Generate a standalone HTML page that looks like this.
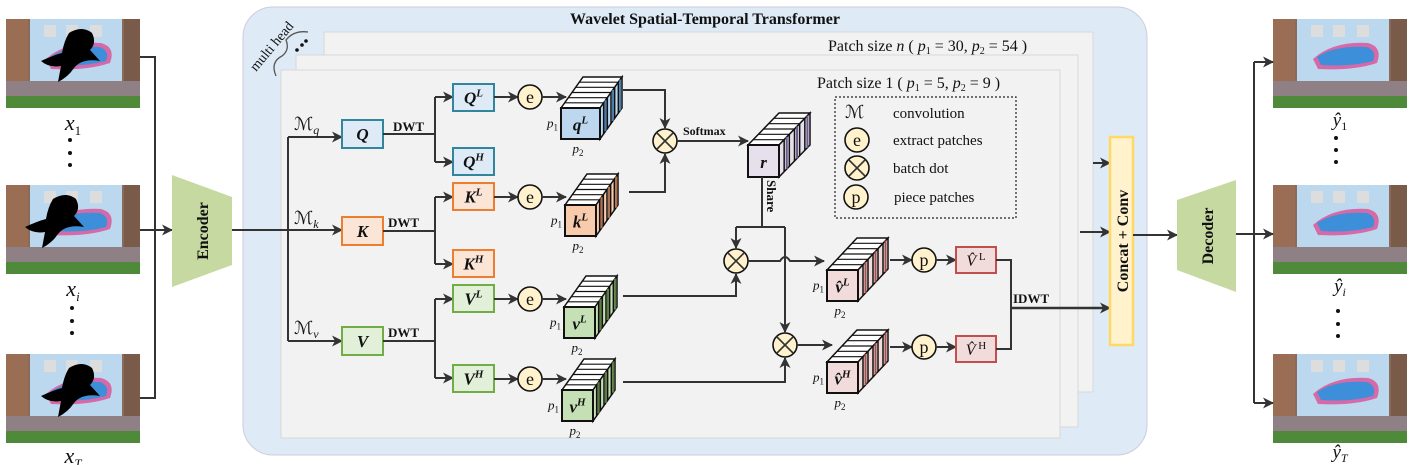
<!DOCTYPE html>
<html><head><meta charset="utf-8"><style>
html,body{margin:0;padding:0;background:#fff;width:1417px;height:465px;overflow:hidden}
svg text{font-family:"Liberation Serif",serif}
</style></head><body>
<svg id="s" width="1417" height="465" viewBox="0 0 1417 465" xmlns="http://www.w3.org/2000/svg">
<defs>
<marker id="a" markerWidth="11" markerHeight="11" refX="10" refY="5.5" orient="auto" markerUnits="userSpaceOnUse"><path d="M0,0 L11,5.5 L0,11 L3,5.5 z" fill="#333"/></marker>
<clipPath id="pc"><rect x="0" y="0" width="134" height="89"/></clipPath>
<g id="photo" clip-path="url(#pc)">
<rect x="0" y="0" width="134" height="89" fill="#8a6a58"/>
<rect x="0" y="0" width="22" height="70" fill="#9a6e55"/>
<rect x="24" y="0" width="92" height="62" fill="#bcd8ee"/>
<rect x="118" y="0" width="16" height="70" fill="#7a5a48"/>
<rect x="38" y="6" width="12" height="12" fill="#ddd"/><rect x="60" y="6" width="12" height="12" fill="#ddd"/><rect x="84" y="6" width="12" height="12" fill="#ddd"/>
<path d="M40,40 Q60,22 95,24 Q110,28 104,44 Q80,52 45,50 z" fill="#d66aa8"/>
<path d="M44,38 Q62,26 94,28 Q104,32 100,42 Q78,48 48,46 z" fill="#3c8fd8"/>
<rect x="0" y="62" width="134" height="16" fill="#8e8085"/>
<rect x="0" y="77" width="134" height="12" fill="#4f8a3a"/>
</g>
<g id="mask"><path d="M55,14 Q68,6 78,14 Q83,24 76,31 L86,42 Q68,39 60,49 Q54,58 44,63 L47,47 Q35,49 27,42 Q40,36 48,34 Q50,22 55,14 z" fill="#000"/></g>
</defs>
<g id="root"></g>
</svg>
<script>
const S=document.getElementById('root');const NS='http://www.w3.org/2000/svg';
function el(t,a,txt){const e=document.createElementNS(NS,t);for(const k in a)e.setAttribute(k,a[k]);if(txt!==undefined)e.innerHTML=txt;S.appendChild(e);return e;}
function line(pts,arrow,w){el('polyline',{points:pts,fill:'none',stroke:'#333','stroke-width':w||2,'marker-end':arrow?'url(#a)':''});}
function txt(x,y,s,sz,extra){const a={x:x,y:y,'font-size':sz||14,fill:'#111'};Object.assign(a,extra||{});return el('text',a,s);}
function box(x,y,w,h,fill,st,label){el('rect',{x:x,y:y,width:w,height:h,fill:fill,stroke:st,'stroke-width':2});txt(x+w/2,y+h/2+6,label,17,{'text-anchor':'middle','font-weight':'bold','font-style':'italic'});}
function circ(cx,cy,ch){el('circle',{cx:cx,cy:cy,r:12,fill:'#fff2cc',stroke:'#111','stroke-width':1.6});if(ch)txt(cx,cy+6,ch,18,{'text-anchor':'middle'});else{const d=8.5;line(`${cx-d},${cy-d} ${cx+d},${cy+d}`,0,1.6);line(`${cx-d},${cy+d} ${cx+d},${cy-d}`,0,1.6);}}
function cube(x,y,w,h,dx,dy,fill,dark,n,label,p){
 el('polygon',{points:`${x},${y} ${x+dx},${y-dy} ${x+w+dx},${y-dy} ${x+w},${y}`,fill:'#fff',stroke:'#111','stroke-width':1.5});
 el('polygon',{points:`${x+w},${y} ${x+w+dx},${y-dy} ${x+w+dx},${y+h-dy} ${x+w},${y+h}`,fill:fill,stroke:'#111','stroke-width':1.5});
 for(let i=1;i<n;i++){const t=i/n;
  el('line',{x1:x+t*dx,y1:y-t*dy,x2:x+w+t*dx,y2:y-t*dy,stroke:'#111','stroke-width':1.2});
  el('line',{x1:x+w+t*dx,y1:y-t*dy,x2:x+w+t*dx,y2:y+h-t*dy,stroke:'#111','stroke-width':1.5});
  if(i%2)el('line',{x1:x+w+(t+0.5/n)*dx,y1:y-(t+0.5/n)*dy,x2:x+w+(t+0.5/n)*dx,y2:y+h-(t+0.5/n)*dy,stroke:dark,'stroke-width':2});}
 el('rect',{x:x,y:y,width:w,height:h,fill:fill,stroke:'#111','stroke-width':2});
 txt(x+w/2,y+h/2+7,label,17,{'text-anchor':'middle','font-style':'italic','font-weight':'bold'});
 if(p){txt(x-14,y+h/2+4,'<tspan font-style="italic">p</tspan><tspan font-size="9" dy="3">1</tspan>',13);
 txt(x+w/2-8,y+h+14,'<tspan font-style="italic">p</tspan><tspan font-size="9" dy="3">2</tspan>',13);}}
const ph=[[6,19,1],[6,185,1],[6,354,1],[1273,19,0],[1273,185,0],[1273,354,0]];
ph.forEach(([x,y,m])=>{el('use',{href:'#photo',x:x,y:y});if(m)el('use',{href:'#mask',x:x+(y==185?-8:8),y:y});});
txt(73,130,'<tspan font-style="italic">x</tspan><tspan font-size="13" dy="5">1</tspan>',22,{'text-anchor':'middle'});
txt(73,296,'<tspan font-style="italic">x</tspan><tspan font-size="13" dy="5" font-style="italic">i</tspan>',22,{'text-anchor':'middle'});
txt(73,463,'<tspan font-style="italic">x</tspan><tspan font-size="13" dy="5" font-style="italic">T</tspan>',22,{'text-anchor':'middle'});
txt(1340,126,'<tspan font-style="italic">ŷ</tspan><tspan font-size="12" dy="4">1</tspan>',19,{'text-anchor':'middle'});
txt(1340,292,'<tspan font-style="italic">ŷ</tspan><tspan font-size="12" dy="4" font-style="italic">i</tspan>',19,{'text-anchor':'middle'});
txt(1340,458,'<tspan font-style="italic">ŷ</tspan><tspan font-size="12" dy="4" font-style="italic">T</tspan>',19,{'text-anchor':'middle'});
[[70,140],[70,153],[70,165],[72,308],[72,321],[72,333],[1336,138],[1336,150],[1336,162],[1338,311],[1338,324],[1338,336]].forEach(([x,y])=>el('circle',{cx:x,cy:y,r:2,fill:'#111'}));
line('140,57 155,57 155,398 140,398');line('140,230 172,230',1);
el('polygon',{points:'172,175 232,197 232,265 172,287',fill:'#c5d9a0'});
txt(0,0,'Encoder',16,{'font-weight':'bold',transform:'translate(208,231) rotate(-90)','text-anchor':'middle'});
el('rect',{x:243,y:7,width:904,height:448,rx:30,fill:'#deeaf6',stroke:'#ccd','stroke-width':1});
txt(705,24,'Wavelet Spatial-Temporal Transformer',16,{'text-anchor':'middle','font-weight':'bold'});
el('rect',{x:324,y:32,width:769,height:360,fill:'#f2f2f2',stroke:'#d8d8d8'});
el('rect',{x:296,y:55,width:782,height:372,fill:'#f2f2f2',stroke:'#d8d8d8'});
el('rect',{x:281,y:70,width:779,height:368,fill:'#f2f2f2',stroke:'#d8d8d8'});
txt(0,0,'multi head',14,{transform:'translate(256,72) rotate(-50)'});
el('path',{d:'M276,76 Q270,62 282,56 Q290,50 286,40 Q294,30 308,32',fill:'none',stroke:'#555','stroke-width':1.3});
[[297,50],[302,45],[306,41]].forEach(([x,y])=>el('circle',{cx:x,cy:y,r:1.8,fill:'#111'}));
txt(828,51,'Patch size <tspan font-style="italic">n</tspan> ( <tspan font-style="italic">p</tspan><tspan font-size="10" dy="3">1</tspan><tspan dy="-3"> = 30, </tspan><tspan font-style="italic">p</tspan><tspan font-size="10" dy="3">2</tspan><tspan dy="-3"> = 54 )</tspan>',16);
txt(817,88,'Patch size 1 ( <tspan font-style="italic">p</tspan><tspan font-size="10" dy="3">1</tspan><tspan dy="-3"> = 5, </tspan><tspan font-style="italic">p</tspan><tspan font-size="10" dy="3">2</tspan><tspan dy="-3"> = 9 )</tspan>',16);
line('232,230 342,230',1);line('288,137 288,341');line('288,137 342,137',1);line('288,341 342,341',1);
txt(294,130,'ℳ<tspan font-size="12" dy="4" font-style="italic">q</tspan>',18);
txt(294,224,'ℳ<tspan font-size="12" dy="4" font-style="italic">k</tspan>',18);
txt(294,334,'ℳ<tspan font-size="12" dy="4" font-style="italic">v</tspan>',18);
const cols={Q:['#deebf7','#31859c','#bdd7ee','#4a7aa8'],K:['#fbe5d6','#ed7d31','#f8cbad','#b07050'],V:['#e2f0d9','#70ad47','#c5e0b4','#5a7a40']};
box(342,120,41,28,cols.Q[0],cols.Q[1],'Q');box(342,217,41,28,cols.K[0],cols.K[1],'K');box(342,327,41,28,cols.V[0],cols.V[1],'V');
[['DWT',393,131],['DWT',388,227],['DWT',388,337]].forEach(([s,x,y])=>txt(x,y,s,13,{'font-weight':'bold'}));
line('383,134 435,134');line('435,97 435,162');line('435,97 453,97',1);line('435,162 453,162',1);
line('383,231 435,231');line('435,197 435,264');line('435,197 453,197',1);line('435,264 453,264',1);
line('383,341 435,341');line('435,299 435,378');line('435,299 453,299',1);line('435,378 453,378',1);
box(453,84,41,27,cols.Q[0],cols.Q[1],'Q<tspan font-size="11" dy="-7">L</tspan>');
box(453,148,41,27,cols.Q[0],cols.Q[1],'Q<tspan font-size="11" dy="-7">H</tspan>');
box(453,183,41,27,cols.K[0],cols.K[1],'K<tspan font-size="11" dy="-7">L</tspan>');
box(453,250,41,27,cols.K[0],cols.K[1],'K<tspan font-size="11" dy="-7">H</tspan>');
box(453,285,41,27,cols.V[0],cols.V[1],'V<tspan font-size="11" dy="-7">L</tspan>');
box(453,365,41,27,cols.V[0],cols.V[1],'V<tspan font-size="11" dy="-7">H</tspan>');
[[97],[197],[299],[379]].forEach(([y])=>{line(`494,${y} 518,${y}`,1);circ(530,y,'e');line(`542,${y} 566,${y}`,1);});
cube(561,108,39,31,22,31,cols.Q[2],cols.Q[3],6,'q<tspan font-size="11" dy="-7">L</tspan>',1);
cube(565,205,31,31,22,31,cols.K[2],cols.K[3],6,'k<tspan font-size="11" dy="-7">L</tspan>',1);
cube(564,307,31,31,22,31,cols.V[2],cols.V[3],6,'v<tspan font-size="11" dy="-7">L</tspan>',1);
cube(562,390,31,31,22,31,cols.V[2],cols.V[3],6,'v<tspan font-size="11" dy="-7">H</tspan>',1);
line('623,90 665,90 665,128',1);line('629,192 665,192 665,154',1);circ(665,141);
txt(683,135,'Softmax',12,{'font-weight':'bold'});line('677,141 748,141',1);
cube(748,145,31,32,31,32,'#e6e0ec','#6a5a8a',6,'r',0);
line('762,177 762,227');txt(0,0,'Share',13,{'font-weight':'bold',transform:'translate(767,180) rotate(90)'});
line('736,227 785,227');line('736,227 736,248',1);line('785,227 785,332',1);
line('623,296 736,296 736,274',1);line('623,382 785,382 785,358',1);
circ(736,261);circ(785,345);
el('path',{d:'M748,261 L780,261 Q785,253 790,261 L824,261',fill:'none',stroke:'#333','stroke-width':2,'marker-end':'url(#a)'});
line('797,345 832,345',1);
cube(827,270,31,31,30,32,'#f2dcdb','#a05050',6,'v̂<tspan font-size="11" dy="-7">L</tspan>',1);
cube(827,362,31,31,30,32,'#f2dcdb','#a05050',6,'v̂<tspan font-size="11" dy="-7">H</tspan>',1);
line('890,260 912,260',1);circ(924,260,'p');line('936,260 956,260',1);
line('890,347 912,347',1);circ(924,347,'p');line('936,347 956,347',1);
el('rect',{x:956,y:247,width:40,height:26,fill:'#f2dcdb',stroke:'#c0504d','stroke-width':2});
el('rect',{x:956,y:336,width:40,height:26,fill:'#f2dcdb',stroke:'#c0504d','stroke-width':2});
txt(976,266,'<tspan font-style="italic">V̂</tspan><tspan font-size="11" dy="-6"> L</tspan>',16,{'text-anchor':'middle'});
txt(976,355,'<tspan font-style="italic">V̂</tspan><tspan font-size="11" dy="-6"> H</tspan>',16,{'text-anchor':'middle'});
line('996,260 1011,260 1011,349 996,349');txt(1013,303,'IDWT',13,{'font-weight':'bold'});
line('1011,308 1110,308',1,2.5);line('1080,232 1110,232',1);line('1093,163 1110,163',1);
el('rect',{x:835,y:97,width:181,height:121,fill:'none',stroke:'#222','stroke-width':1.2,'stroke-dasharray':'2,2'});
txt(845,118,'ℳ',18);txt(893,118,'convolution',15);
circ(857,140,'e');txt(893,145,'extract patches',15);
circ(857,168);txt(893,173,'batch dot',15);
circ(856,197,'p');txt(894,202,'piece patches',15);
el('rect',{x:1110,y:137,width:23,height:208,fill:'#fff2cc',stroke:'#ffd966','stroke-width':2.5});
txt(0,0,'Concat + Conv',16,{'font-weight':'bold',transform:'translate(1128,241) rotate(-90)','text-anchor':'middle'});
line('1133,235 1177,235',1);
el('polygon',{points:'1177,200 1236,180 1236,292 1177,270',fill:'#c5d9a0'});
txt(0,0,'Decoder',16,{'font-weight':'bold',transform:'translate(1213,236) rotate(-90)','text-anchor':'middle'});
line('1236,234 1273,234',1);line('1254,403 1254,62');line('1254,62 1273,62',1);line('1254,403 1273,403',1);
</script>
</body></html>
